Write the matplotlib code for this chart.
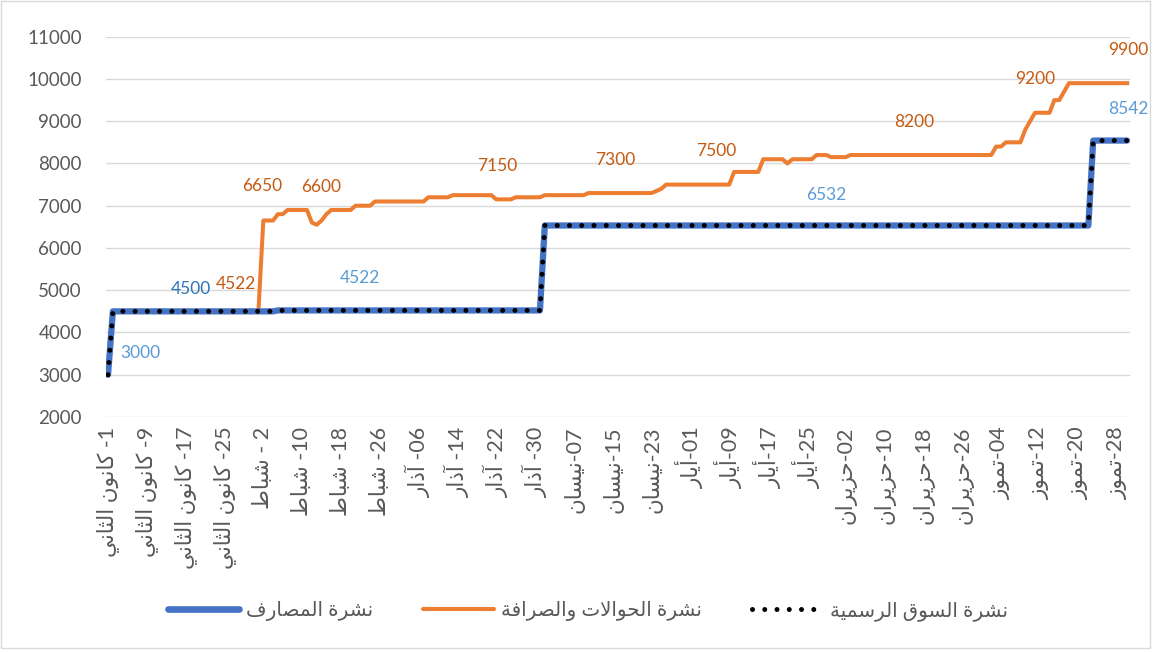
import re
import numpy as np
import matplotlib
matplotlib.use("Agg")
import matplotlib.pyplot as plt
from matplotlib.lines import Line2D
from matplotlib.patches import Rectangle

plt.rcParams['font.family'] = ['Lato', 'DejaVu Sans']

# ---------------- data (daily, 1 Jan .. 30 Jul) ----------------
# step levels and how many days each level lasts
banks_levels = [3000, 4500, 4522, 6532, 8542]
banks_days = [1, 34, 55, 113, 8]

official_levels = [3000, 4500, 4522, 6532, 8542]
official_days = [1, 34, 55, 113, 8]

transfer_start_day = 31  # series begins on 1 Feb
transfer_levels = [4522, 6650, 6800, 6900, 6600, 6550, 6650, 6800, 6900, 7000,
                   7100, 7200, 7250, 7150, 7200, 7250, 7300, 7350, 7400, 7500,
                   7800, 8100, 8000, 8100, 8200, 8150, 8200, 8400, 8500, 8800,
                   9000, 9200, 9500, 9700, 9900]
transfer_days = [1, 3, 2, 5, 1, 1, 1, 1, 5, 4,
                 11, 5, 9, 4, 6, 9, 14, 1, 1, 14,
                 6, 5, 1, 5, 3, 4, 30, 2, 4, 1,
                 1, 4, 2, 1, 13]

tick_labels = ["1- كانون الثاني", "9- كانون الثاني", "17- كانون الثاني", "25- كانون الثاني",
               "2 - شباط", "10- شباط", "18- شباط", "26- شباط",
               "06- آذار", "14- آذار", "22- آذار", "30- آذار",
               "07-نيسان", "15-نيسان", "23-نيسان",
               "01-أيار", "09-أيار", "17-أيار", "25-أيار",
               "02-حزيران", "10-حزيران", "18-حزيران", "26-حزيران",
               "04-تموز", "12-تموز", "20-تموز", "28-تموز"]
tick_step = 8

series_names = ["نشرة المصارف", "نشرة الحوالات والصرافة", "نشرة السوق الرسمية"]

# data labels: (day index, text)
banks_label_days = [0, 17, 52, 148, 210]
banks_label_text = ["3000", "4500", "4522", "6532", "8542"]
transfer_label_days = [31, 32, 43, 80, 104, 125, 166, 191, 210]
transfer_label_text = ["4522", "6650", "6600", "7150", "7300", "7500", "8200", "9200", "9900"]

# ---------------- simple Arabic shaping ----------------
FORMS = {
    '\u0622': ('\uFE81', '\uFE82', None, None),
    '\u0623': ('\uFE83', '\uFE84', None, None),
    '\u0627': ('\uFE8D', '\uFE8E', None, None),
    '\u0628': ('\uFE8F', '\uFE90', '\uFE91', '\uFE92'),
    '\u0629': ('\uFE93', '\uFE94', None, None),
    '\u062A': ('\uFE95', '\uFE96', '\uFE97', '\uFE98'),
    '\u062B': ('\uFE99', '\uFE9A', '\uFE9B', '\uFE9C'),
    '\u062D': ('\uFEA1', '\uFEA2', '\uFEA3', '\uFEA4'),
    '\u0630': ('\uFEAB', '\uFEAC', None, None),
    '\u0631': ('\uFEAD', '\uFEAE', None, None),
    '\u0632': ('\uFEAF', '\uFEB0', None, None),
    '\u0633': ('\uFEB1', '\uFEB2', '\uFEB3', '\uFEB4'),
    '\u0634': ('\uFEB5', '\uFEB6', '\uFEB7', '\uFEB8'),
    '\u0635': ('\uFEB9', '\uFEBA', '\uFEBB', '\uFEBC'),
    '\u0637': ('\uFEC1', '\uFEC2', '\uFEC3', '\uFEC4'),
    '\u0641': ('\uFED1', '\uFED2', '\uFED3', '\uFED4'),
    '\u0642': ('\uFED5', '\uFED6', '\uFED7', '\uFED8'),
    '\u0643': ('\uFED9', '\uFEDA', '\uFEDB', '\uFEDC'),
    '\u0644': ('\uFEDD', '\uFEDE', '\uFEDF', '\uFEE0'),
    '\u0645': ('\uFEE1', '\uFEE2', '\uFEE3', '\uFEE4'),
    '\u0646': ('\uFEE5', '\uFEE6', '\uFEE7', '\uFEE8'),
    '\u0648': ('\uFEED', '\uFEEE', None, None),
    '\u064A': ('\uFEF1', '\uFEF2', '\uFEF3', '\uFEF4'),
}
LAM_ALEF = {'\u0627': ('\uFEFB', '\uFEFC'),
            '\u0623': ('\uFEF7', '\uFEF8'),
            '\u0622': ('\uFEF5', '\uFEF6')}


def shape(s):
    out = []
    i, n = 0, len(s)
    prev_joins = False
    while i < n:
        c = s[i]
        if c not in FORMS:
            out.append(c)
            prev_joins = False
            i += 1
            continue
        if c == '\u0644' and i + 1 < n and s[i + 1] in LAM_ALEF:
            lig = LAM_ALEF[s[i + 1]]
            out.append(lig[1] if prev_joins else lig[0])
            prev_joins = False
            i += 2
            continue
        nxt = s[i + 1] if i + 1 < n else ''
        iso, fin, ini, med = FORMS[c]
        can_next = ini is not None and nxt in FORMS
        if prev_joins and can_next:
            g = med
        elif prev_joins:
            g = fin
        elif can_next:
            g = ini
        else:
            g = iso
        out.append(g)
        prev_joins = can_next
        i += 1
    return ''.join(out)


def visual(s):
    tokens = re.findall(r'\d+|.', shape(s))
    return ''.join(reversed(tokens))


# ---------------- build series ----------------
banks = np.repeat(banks_levels, banks_days).astype(float)
official = np.repeat(official_levels, official_days).astype(float)
transfer_vals = np.repeat(transfer_levels, transfer_days).astype(float)
days = np.arange(len(banks))
transfer = np.full(len(days), np.nan)
transfer[transfer_start_day:transfer_start_day + len(transfer_vals)] = transfer_vals

BLUE = '#4472C4'
ORANGE = '#ED7D31'
LBL_ORANGE = '#C55A11'
LBL_BLUE = '#5B9BD5'
LBL_BLUE_DARK = '#2E75B6'
GRID = '#D9D9D9'
TXT = '#595959'

fig = plt.figure(figsize=(11.54, 6.52), dpi=100)
ax = fig.add_axes([105.6 / 1154, 1 - 417 / 652, 1024 / 1154, (417 - 36.7) / 652])

ax.plot(days, transfer, color=ORANGE, lw=2.9, zorder=2, solid_joinstyle='round')
ax.plot(days, banks, color=BLUE, lw=4.5, zorder=3, solid_joinstyle='round', solid_capstyle='round')
ax.plot(days, official, color='black', lw=3.6, zorder=4,
        linestyle=(0, (0.001, 2.45)), dash_capstyle='round')

ax.set_xlim(-0.5, len(days) - 0.5)
ax.set_ylim(2000, 11000)
ax.set_yticks(np.arange(2000, 11001, 1000))
ax.yaxis.grid(True, color=GRID, lw=1.0)
ax.set_axisbelow(True)
for sp in ax.spines.values():
    sp.set_visible(False)
ax.tick_params(axis='both', length=0)
ax.tick_params(axis='y', pad=17, labelsize=13.5, labelcolor=TXT)

ax.set_xticks(days[::tick_step])
ax.set_xticklabels([visual(t) for t in tick_labels], rotation=90, fontsize=15.5, color=TXT)
ax.tick_params(axis='x', pad=7)

# data labels
banks_offsets = [(23, 16), (0, 16), (0, 23), (0, 22), (1, 23)]
for d, t, off in zip(banks_label_days, banks_label_text, banks_offsets):
    col = LBL_BLUE_DARK if t == "4500" else LBL_BLUE
    ax.annotate(t, xy=(d, banks[d]), xytext=off, textcoords='offset points',
                ha='center', va='center', fontsize=12.5, color=col)
transfer_offsets = [(-16, 19), (-1, 25), (3, 27), (1, 24), (2, 24), (1, 24), (0.5, 24), (0.5, 24), (1, 24)]
for d, t, off in zip(transfer_label_days, transfer_label_text, transfer_offsets):
    ax.annotate(t, xy=(d, transfer[d]), xytext=off, textcoords='offset points',
                ha='center', va='center', fontsize=12.5, color=LBL_ORANGE)

# legend
handles = [Line2D([], [], color=BLUE, lw=4.8, solid_capstyle='round'),
           Line2D([], [], color=ORANGE, lw=2.9, solid_capstyle='round'),
           Line2D([], [], color='black', lw=3.6, linestyle=(0, (0.001, 2.45)), dash_capstyle='round')]
fig.legend(handles, [visual(s) for s in series_names], loc='center',
           bbox_to_anchor=(588 / 1154, 1 - 611 / 652), ncol=3, frameon=False,
           fontsize=14.3, labelcolor=TXT, handlelength=3.6, handletextpad=0.35,
           columnspacing=2.5)

fig.patches.append(Rectangle((1 / 1154, 4 / 652), 1149 / 1154, 647 / 652,
                             transform=fig.transFigure, fill=False,
                             edgecolor=GRID, lw=1.0))

fig.savefig('out.png', dpi=100)
